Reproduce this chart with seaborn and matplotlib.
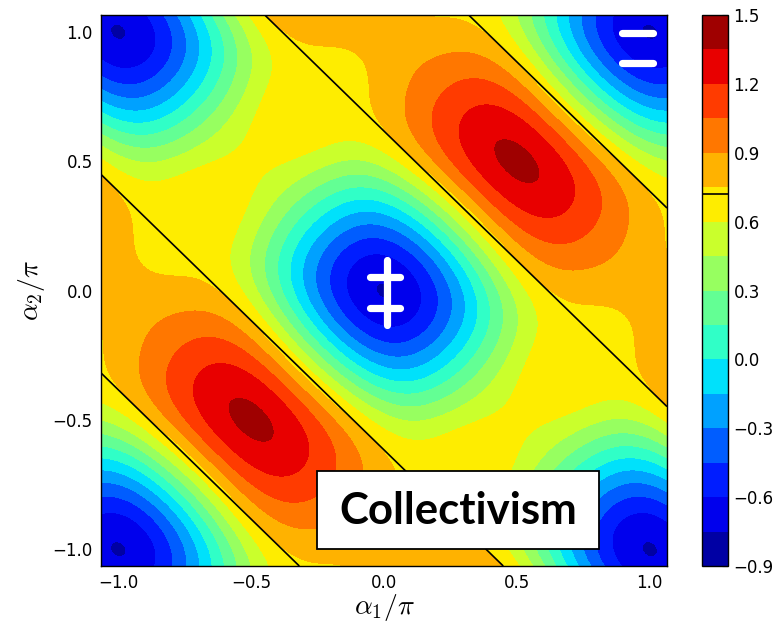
import numpy as np
import matplotlib
matplotlib.use("Agg")
import matplotlib.pyplot as plt
from matplotlib.patches import Rectangle
import seaborn as sns

# Fourier modes of the collective payoff in s = a1 + a2 and d = a1 - a2 (units of pi):
# payoff = sum amplitude * cos(pi*mode_s*s) * cos(pi*mode_d*d)
mode_s = [0, 1, 0, 1, 1, 3, 3]
mode_d = [0, 0, 1, 1, 2, 2, 1]
amplitude = [0.5145, -0.5755, -0.203, -0.5105, 0.0175, -0.0175, 0.0175]

# colour levels and colourbar ticks
levels = [-0.9 + 0.15 * i for i in range(17)]
cbar_ticks = [-0.9, -0.6, -0.3, 0.0, 0.3, 0.6, 0.9, 1.2, 1.5]
axis_ticks = [-1.0, -0.5, 0.0, 0.5, 1.0]
threshold = 0.72          # level of the d-averaged payoff drawn as black lines
span = 1.065              # plotted range of a1/pi and a2/pi

# white markers: "=" at the corner, double-barred cross at the origin
eq_x = [[0.897, 1.013], [0.897, 1.013]]
eq_y = [[0.996, 0.996], [0.880, 0.880]]
cross_x = [[0.01, 0.01], [-0.053, 0.060], [-0.053, 0.060]]
cross_y = [[0.118, -0.132], [0.053, 0.053], [-0.069, -0.069]]

label_text = "Collectivism"


def payoff(a1, a2, only_s=False):
    s, d = a1 + a2, a1 - a2
    out = np.zeros_like(a1)
    for ms, md, amp in zip(mode_s, mode_d, amplitude):
        if only_s and md != 0:
            continue
        out += amp * np.cos(np.pi * ms * s) * np.cos(np.pi * md * d)
    return out


sns.set_theme(style="white")
plt.rcParams.update({
    "font.family": ["DejaVu Sans"],
    "mathtext.fontset": "cm",
    "font.size": 12,
    "xtick.labelsize": 12,
    "ytick.labelsize": 12,
    "xtick.direction": "in",
    "ytick.direction": "in",
    "xtick.top": True, "xtick.bottom": True,
    "ytick.left": True, "ytick.right": True,
    "xtick.major.size": 4, "ytick.major.size": 4,
    "xtick.major.width": 0.8, "ytick.major.width": 0.8,
    "xtick.major.pad": 6, "ytick.major.pad": 6,
    "axes.edgecolor": "black", "axes.linewidth": 1.0,
    "xtick.color": "black", "ytick.color": "black",
    "axes.labelcolor": "black", "text.color": "black",
})

grid = np.linspace(-span, span, 501)
A1, A2 = np.meshgrid(grid, grid)
Z = payoff(A1, A2)
Zmean = payoff(A1, A2, only_s=True)

cmap = matplotlib.colormaps["jet"]

fig = plt.figure(figsize=(7.8, 6.29), dpi=100)
ax = fig.add_axes([101 / 780, 1 - 566 / 629, 566 / 780, 551 / 629])
cax = fig.add_axes([702 / 780, 1 - 566 / 629, 26 / 780, 551 / 629])

cf = ax.contourf(A1, A2, Z, levels=levels, cmap=cmap)
cs = ax.contour(A1, A2, Zmean, levels=[threshold], colors="black", linewidths=1.2)

for xs, ys in zip(eq_x, eq_y):
    ax.plot(xs, ys, color="white", lw=5.2, solid_capstyle="round")
for xs, ys in zip(cross_x, cross_y):
    ax.plot(xs, ys, color="white", lw=5.2, solid_capstyle="round")

ax.add_patch(Rectangle((0.382, 0.031), 0.498, 0.141, transform=ax.transAxes,
                       facecolor="white", edgecolor="black", lw=1.3, zorder=5))
ax.text(0.631, 0.100, label_text, transform=ax.transAxes, ha="center", va="center",
        fontsize=31.5, fontweight="bold", family=["Lato", "DejaVu Sans"], zorder=6)

ax.set_xlim(-span, span)
ax.set_ylim(-span, span)
ax.set_xticks(axis_ticks)
ax.set_yticks(axis_ticks)
ax.set_xlabel(r"$\alpha_1/\pi$", fontsize=20, labelpad=0)
ax.set_ylabel(r"$\alpha_2/\pi$", fontsize=20, labelpad=4)

cbar = fig.colorbar(cf, cax=cax, ticks=cbar_ticks)
cbar.add_lines(cs)
cbar.outline.set_edgecolor("black")
cbar.outline.set_linewidth(1.0)
cax.tick_params(direction="in", length=4, right=True, left=False, labelsize=12, pad=4)

fig.savefig("out.png", dpi=100)
